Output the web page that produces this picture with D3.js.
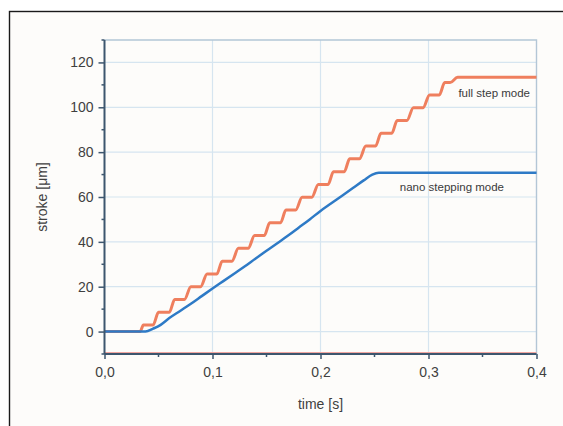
<!DOCTYPE html>
<html>
<head>
<meta charset="utf-8">
<script src="https://cdn.jsdelivr.net/npm/d3@7"></script>
<style>
  html, body { margin: 0; padding: 0; background: #ffffff; }
  svg { display: block; }
  text { font-family: "Liberation Sans", Arial, sans-serif; }
</style>
</head>
<body>
<svg id="chart" width="563" height="426"></svg>
<script>
// Stroke over time for two drive modes
const xTicks = [0, 0.1, 0.2, 0.3, 0.4];
const xTickLabels = ["0,0", "0,1", "0,2", "0,3", "0,4"];
const yTicks = [0, 20, 40, 60, 80, 100, 120];
const xMinorTicks = [0.05, 0.15, 0.25, 0.35];
const yMinorTicks = [-10, 10, 30, 50, 70, 90, 110, 130];

// full step mode: plateau start / end pairs of each step
const fullTime = [0, 0.033, 0.036, 0.045, 0.050, 0.060, 0.065, 0.074, 0.080, 0.089,
  0.095, 0.104, 0.109, 0.118, 0.124, 0.133, 0.139, 0.148, 0.153, 0.163,
  0.168, 0.177, 0.183, 0.192, 0.198, 0.207, 0.212, 0.222, 0.227, 0.236,
  0.242, 0.251, 0.256, 0.266, 0.271, 0.280, 0.286, 0.295, 0.301, 0.310,
  0.315, 0.320, 0.327, 0.400];
const fullStroke = [0, 0, 2.9, 2.9, 8.6, 8.6, 14.3, 14.3, 20.0, 20.0,
  25.7, 25.7, 31.4, 31.4, 37.1, 37.1, 42.8, 42.8, 48.5, 48.5,
  54.2, 54.2, 59.9, 59.9, 65.6, 65.6, 71.3, 71.3, 77.0, 77.0,
  82.7, 82.7, 88.4, 88.4, 94.1, 94.1, 99.8, 99.8, 105.5, 105.5,
  111.0, 111.0, 113.4, 113.4];

// nano stepping mode
const nanoTime = [0, 0.038, 0.045, 0.052, 0.060, 0.070, 0.080, 0.090, 0.100, 0.110,
  0.120, 0.130, 0.140, 0.150, 0.160, 0.170, 0.180, 0.190, 0.200, 0.210,
  0.220, 0.230, 0.240, 0.248, 0.254, 0.400];
const nanoStroke = [0, 0, 1.3, 3.0, 6.0, 9.2, 12.4, 15.8, 19.2, 22.5,
  25.8, 29.1, 32.6, 36.0, 39.4, 42.8, 46.4, 50.0, 53.8, 57.2,
  60.6, 64.0, 67.4, 70.0, 70.8, 70.8];

const svg = d3.select("#chart");
const W = 563, H = 426;
const plot = { left: 104.5, right: 536.5, top: 40, bottom: 354 };

// page background and outer frame
svg.append("rect").attr("width", W).attr("height", H).attr("fill", "#ffffff");
svg.append("rect").attr("x", 9.5).attr("y", 11.5).attr("width", 620).attr("height", 500)
  .attr("fill", "#fdfcfa").attr("stroke", "#1a1a1a").attr("stroke-width", 1.4);

const x = d3.scaleLinear().domain([0, 0.4]).range([plot.left, plot.right]);
const y = d3.scaleLinear().domain([-10, 130]).range([plot.bottom, plot.top]);

// grid
const grid = svg.append("g");
grid.selectAll("line.gx").data(xTicks.slice(1, -1)).join("line")
  .attr("x1", d => x(d)).attr("x2", d => x(d))
  .attr("y1", plot.top).attr("y2", plot.bottom)
  .attr("stroke", "#d6e5f0").attr("stroke-width", 1.2);
grid.selectAll("line.gy").data(yTicks).join("line")
  .attr("x1", plot.left).attr("x2", plot.right)
  .attr("y1", d => y(d)).attr("y2", d => y(d))
  .attr("stroke", "#d6e5f0").attr("stroke-width", 1.2);
// plot box top and right edges
grid.append("path")
  .attr("d", `M${plot.left},${plot.top}H${plot.right}V${plot.bottom}`)
  .attr("fill", "none").attr("stroke", "#b3c6d6").attr("stroke-width", 1.4);

// faint red line under the data along the baseline
svg.append("line").attr("x1", plot.left).attr("x2", plot.right)
  .attr("y1", plot.bottom - 1.5).attr("y2", plot.bottom - 1.5)
  .attr("stroke", "#f2a6a0").attr("stroke-width", 1);

// series
const x0 = d => x(d[0]), y0 = d => y(d[1]);
const lineGen = d3.line().x(x0).y(y0).curve(d3.curveMonotoneX);
const fullData = fullTime.map((t, i) => [t, fullStroke[i]]);
const nanoData = nanoTime.map((t, i) => [t, nanoStroke[i]]);

svg.append("path").datum(fullData).attr("d", lineGen)
  .attr("fill", "none").attr("stroke", "#ef7f5e").attr("stroke-width", 3)
  .attr("stroke-linejoin", "round");
svg.append("path").datum(nanoData).attr("d", lineGen)
  .attr("fill", "none").attr("stroke", "#2e7ac6").attr("stroke-width", 2.5)
  .attr("stroke-linejoin", "round");

// axes
const axisColor = "#3d566e";
const xAxis = svg.append("g").attr("transform", `translate(0,${plot.bottom})`)
  .call(d3.axisBottom(x).tickValues(xTicks).tickFormat((d, i) => xTickLabels[i])
    .tickSize(5).tickPadding(8));
xAxis.selectAll("line.minor").data(xMinorTicks).join("line")
  .attr("x1", d => x(d)).attr("x2", d => x(d)).attr("y1", 0).attr("y2", 3);

const yAxis = svg.append("g").attr("transform", `translate(${plot.left},0)`)
  .call(d3.axisLeft(y).tickValues(yTicks).tickSize(6).tickPadding(5));
yAxis.selectAll("line.minor").data(yMinorTicks).join("line")
  .attr("x1", -3).attr("x2", 0).attr("y1", d => y(d)).attr("y2", d => y(d));

[xAxis, yAxis].forEach(a => {
  a.select(".domain").attr("stroke", axisColor).attr("stroke-width", 2);
  a.selectAll("line").attr("stroke", axisColor).attr("stroke-width", 1.5);
  a.selectAll("text").attr("fill", "#3f3f3f").attr("font-size", 14)
    .attr("font-family", "'Liberation Sans', Arial, sans-serif");
});
xAxis.select(".domain").attr("d", `M${plot.left},0H${plot.right}`);
yAxis.select(".domain").attr("d", `M0,${plot.top}V${plot.bottom}`);

// axis titles
svg.append("text").attr("x", x(0.2)).attr("y", 409).attr("text-anchor", "middle")
  .attr("font-size", 14).attr("fill", "#3f3f3f").text("time [s]");
svg.append("text").attr("transform", `translate(47,${y(60)}) rotate(-90)`)
  .attr("text-anchor", "middle").attr("font-size", 14).attr("fill", "#3f3f3f")
  .text("stroke [μm]");

// series labels
svg.append("text").attr("x", 530).attr("y", 97).attr("text-anchor", "end")
  .attr("font-size", 11.5).attr("fill", "#3a3a3a").text("full step mode");
svg.append("text").attr("x", 504).attr("y", 191).attr("text-anchor", "end")
  .attr("font-size", 11.5).attr("fill", "#3a3a3a").text("nano stepping mode");
</script>
</body>
</html>
